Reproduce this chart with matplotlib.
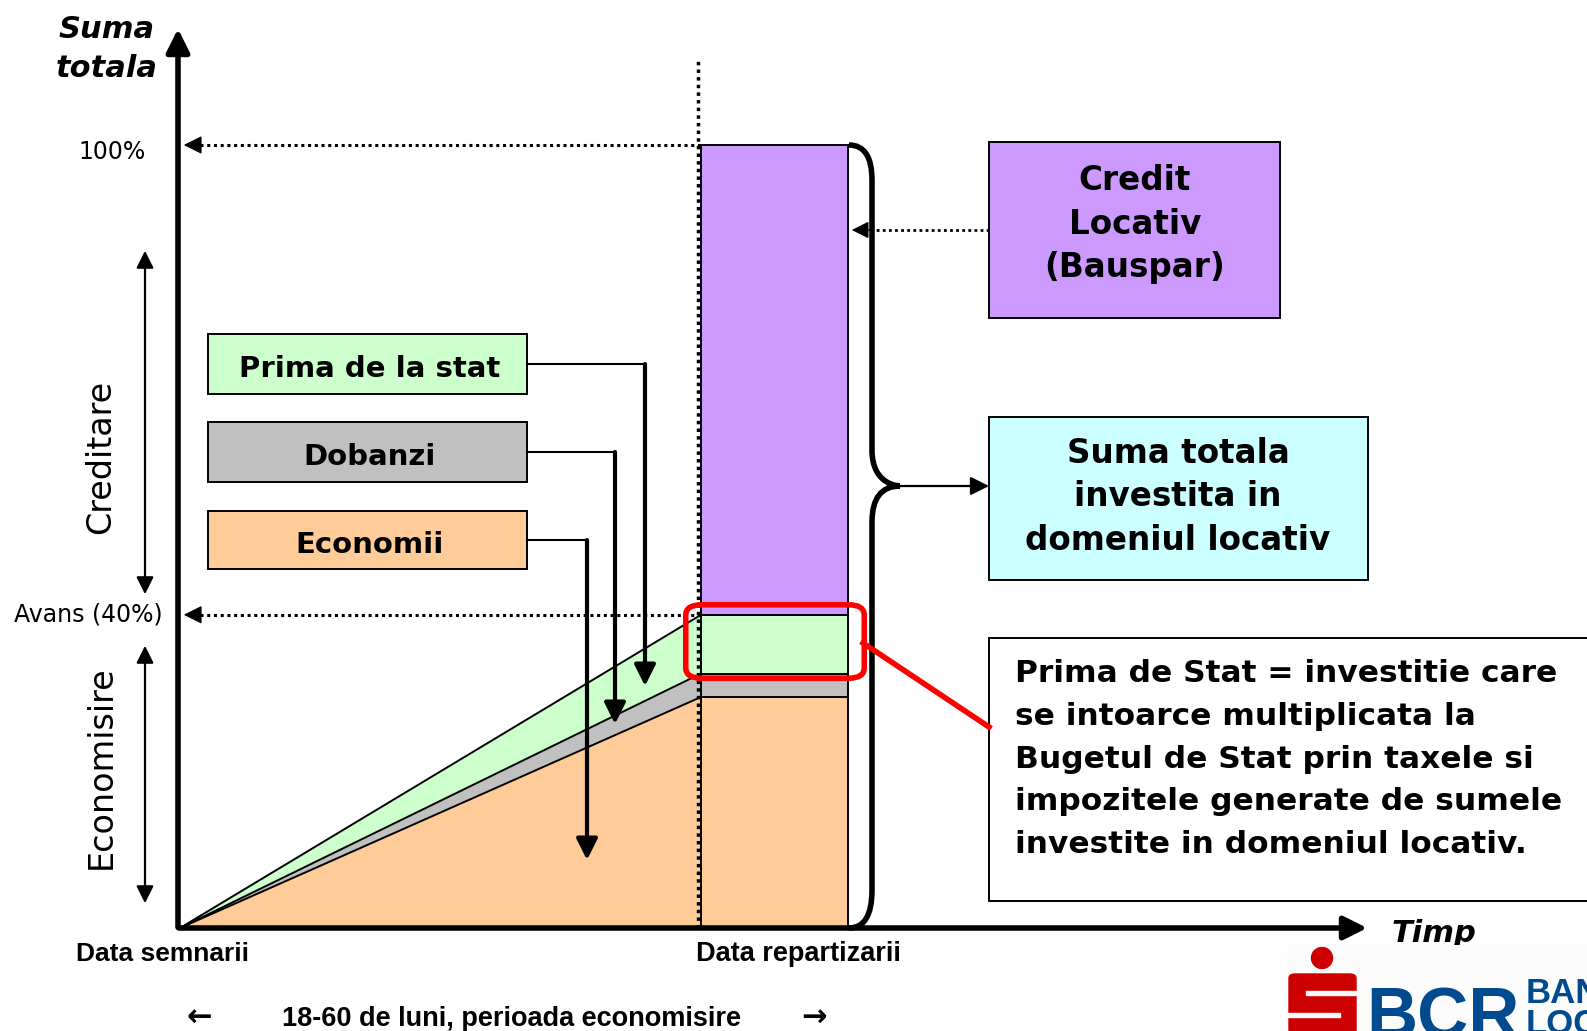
import numpy as np
import matplotlib.pyplot as plt
from matplotlib.patches import Rectangle, FancyBboxPatch, PathPatch, Ellipse
from matplotlib.path import Path

# Data (share of the total amount at the allocation date, in %)
layers = ['Economii', 'Dobanzi', 'Prima de la stat']
layer_share = [29.5, 3.0, 7.5]
layer_colors = ['#FFCC99', '#C0C0C0', '#CCFFCC']
credit_share = 60.0
avans = 40.0
t_semnare = 0.0
t_repartizare = 1.0
bar_width = 0.282

# reference pixel -> data units (layout helper)
X0, X1, Y0, Y100 = 180.0, 701.0, 928.0, 145.0
def X(px):
    return (px - X0) / (X1 - X0)
def Y(py):
    return (Y0 - py) / (Y0 - Y100) * 100

W, H = 1587, 1031
fig = plt.figure(figsize=(W / 100, H / 100), dpi=100)
ax = fig.add_axes([0, 0, 1, 1])
ax.set_xlim(X(0), X(W))
ax.set_ylim(Y(H), Y(0))
ax.axis('off')

# stacked triangles (accumulation during saving period)
cum = np.cumsum(layer_share)
bottoms = np.concatenate([[0], cum[:-1]])
t = [t_semnare, t_repartizare]
for i in range(len(layers)):
    ax.fill_between(t, [0, bottoms[i]], [0, cum[i]], color=layer_colors[i],
                    edgecolor='none', zorder=2)
    ax.plot(t, [0, cum[i]], color='black', lw=1.4, zorder=3)

# bar at allocation date
for i in range(len(layers)):
    ax.add_patch(Rectangle((t_repartizare, bottoms[i]), bar_width, layer_share[i],
                           facecolor=layer_colors[i], edgecolor='black', lw=1.4, zorder=3))
ax.add_patch(Rectangle((t_repartizare, avans), bar_width, credit_share,
                       facecolor='#CC99FF', edgecolor='black', lw=1.4, zorder=3))

# axes with arrows
ax.annotate('', xy=(X(178), Y(26)), xytext=(X(178), Y(930)),
            arrowprops=dict(arrowstyle='-|>', lw=4, color='black', mutation_scale=35), zorder=5)
ax.annotate('', xy=(X(1370), Y(928)), xytext=(X(176), Y(928)),
            arrowprops=dict(arrowstyle='-|>', lw=4, color='black', mutation_scale=35), zorder=5)

# vertical dotted line at allocation date
ax.plot([X(698)] * 2, [Y(928), Y(58)], color='black', lw=2.5,
        ls=(0, (1, 1.2)), zorder=4)

# dotted guide lines to 100% and avans
for lvl in [100, avans]:
    ax.plot([X(200), t_repartizare], [lvl, lvl], color='black', lw=2.2, ls=(0, (1, 1.2)), zorder=4)
    ax.annotate('', xy=(X(181), lvl), xytext=(X(203), lvl),
                arrowprops=dict(arrowstyle='-|>', lw=1, color='black', mutation_scale=28), zorder=5)

ax.text(X(112), Y(152), '100%', fontsize=17, ha='center', va='center')
ax.text(X(88), avans, 'Avans (40%)', fontsize=17, ha='center', va='center')
ax.text(X(107), Y(29), 'Suma', fontsize=22, fontweight='bold', style='italic', ha='center', va='center')
ax.text(X(107), Y(69), 'totala', fontsize=22, fontweight='bold', style='italic', ha='center', va='center')

# double arrows on the left
for y_a, y_b, lab, y_lab in [(Y(248), Y(597), 'Creditare', Y(457)),
                             (Y(643), Y(906), 'Economisire', Y(767))]:
    ax.annotate('', xy=(X(145), y_a), xytext=(X(145), y_b),
                arrowprops=dict(arrowstyle='<|-|>', lw=1.6, color='black', mutation_scale=26))
    ax.text(X(101), y_lab, lab, fontsize=24, rotation=90, ha='center', va='center')

# labelled boxes with connectors
box_y = [(511, 569), (422, 482), (334, 394)]
conn_x = [587, 615, 645]
conn_end = [860, 724, 686]
for i, lab in enumerate(layers):
    top, bot = box_y[i]
    ax.add_patch(Rectangle((X(208), Y(bot)), X(527) - X(208), Y(top) - Y(bot),
                           facecolor=layer_colors[i], edgecolor='black', lw=1.4, zorder=3))
    ym = Y((top + bot) / 2)
    ax.text(X(370), Y((top + bot) / 2 + 5), lab, fontsize=21, fontweight='bold',
            ha='center', va='center', zorder=4)
    ax.plot([X(527), X(conn_x[i])], [ym, ym], color='black', lw=1.5, zorder=4)
    ax.annotate('', xy=(X(conn_x[i]), Y(conn_end[i])), xytext=(X(conn_x[i]), ym),
                arrowprops=dict(arrowstyle='-|>', lw=3, color='black', mutation_scale=32,
                                shrinkA=0, shrinkB=0), zorder=4)

# brace on the right of the bar
verts = [(X(849), Y(145)), (X(872), Y(145)), (X(872), Y(180)), (X(872), Y(200)),
         (X(872), Y(450)),
         (X(872), Y(486)), (X(900), Y(486)), (X(900), Y(486)),
         (X(872), Y(486)), (X(872), Y(522)),
         (X(872), Y(890)),
         (X(872), Y(928)), (X(849), Y(928))]
codes = [Path.MOVETO, Path.CURVE3, Path.CURVE3, Path.LINETO,
         Path.LINETO,
         Path.CURVE4, Path.CURVE4, Path.CURVE4,
         Path.CURVE3, Path.CURVE3,
         Path.LINETO,
         Path.CURVE3, Path.CURVE3]
ax.add_patch(PathPatch(Path(verts, codes), facecolor='none', edgecolor='black', lw=4, zorder=5))
ax.annotate('', xy=(X(989), Y(486)), xytext=(X(900), Y(486)),
            arrowprops=dict(arrowstyle='-|>', lw=1.6, color='black', mutation_scale=28,
                            shrinkA=0, shrinkB=0))

# right-hand boxes
ax.add_patch(Rectangle((X(989), Y(318)), X(1280) - X(989), Y(142) - Y(318),
                       facecolor='#CC99FF', edgecolor='black', lw=1.4))
ax.text(X(1135), Y(224), 'Credit\nLocativ\n(Bauspar)', fontsize=23.5, fontweight='bold',
        ha='center', va='center', linespacing=1.4)
ax.plot([X(989), X(870)], [Y(230), Y(230)], color='black', lw=2, ls=(0, (1, 1.2)))
ax.annotate('', xy=(X(849), Y(230)), xytext=(X(872), Y(230)),
            arrowprops=dict(arrowstyle='-|>', lw=1, color='black', mutation_scale=26))

ax.add_patch(Rectangle((X(989), Y(580)), X(1368) - X(989), Y(417) - Y(580),
                       facecolor='#CCFFFF', edgecolor='black', lw=1.4))
ax.text(X(1178), Y(497), 'Suma totala\ninvestita in\ndomeniul locativ', fontsize=23.5,
        fontweight='bold', ha='center', va='center', linespacing=1.4)

ax.add_patch(Rectangle((X(989), Y(901)), X(1600) - X(989), Y(638) - Y(901),
                       facecolor='white', edgecolor='black', lw=1.4, clip_on=False))
ax.text(X(1015), Y(759), 'Prima de Stat = investitie care\nse intoarce multiplicata la\n'
        'Bugetul de Stat prin taxele si\nimpozitele generate de sumele\n'
        'investite in domeniul locativ.', fontsize=22.5, fontweight='bold',
        ha='left', va='center', linespacing=1.6)

# red highlight of the state bonus
ax.add_patch(FancyBboxPatch((X(692), Y(674)), X(858) - X(692), Y(609) - Y(674),
                            boxstyle='round,pad=0.012,rounding_size=0.03', mutation_aspect=45,
                            facecolor='none', edgecolor='red', lw=4, zorder=6))
ax.plot([X(863), X(989)], [Y(643), Y(727)], color='red', lw=4, zorder=6)

# bottom labels
narrow = ['Liberation Sans Narrow', 'Liberation Sans']
ax.text(X(162), Y(954), 'Data semnarii', fontsize=19, fontweight='bold', family=narrow,
        ha='center', va='center')
ax.text(X(798), Y(954), 'Data repartizarii', fontsize=19.5, fontweight='bold', family=narrow,
        ha='center', va='center')
ax.text(X(511), Y(1019), '18-60 de luni, perioada economisire', fontsize=19.5, fontweight='bold',
        family=narrow, ha='center', va='center')
ax.text(X(199), Y(1018), '←', fontsize=22, fontweight='bold', ha='center', va='center')
ax.text(X(814), Y(1018), '→', fontsize=22, fontweight='bold', ha='center', va='center')
ax.text(X(1434), Y(933), 'Timp', fontsize=22, fontweight='bold', style='italic',
        ha='center', va='center')

# BCR logo
red = '#CC0000'
blue = '#004A8F'
bg = '#FCFCFC'
ax.add_patch(Rectangle((X(1287), Y(1031)), X(1600) - X(1287), Y(945) - Y(1031),
                       facecolor=bg, edgecolor='none', zorder=5, clip_on=False))
ax.add_patch(Ellipse((X(1322), Y(958)), X(1343) - X(1322), Y(937) - Y(958),
                     color=red, zorder=6))
ax.add_patch(FancyBboxPatch((X(1289), Y(1034)), X(1356) - X(1289), Y(974) - Y(1034),
                            boxstyle='round,pad=0,rounding_size=0.012', mutation_aspect=45,
                            color=red, zorder=6, clip_on=False))
ax.add_patch(Rectangle((X(1306), Y(995)), X(1360) - X(1306), Y(991) - Y(995),
                       color=bg, zorder=7))
ax.add_patch(Rectangle((X(1285), Y(1017)), X(1340) - X(1285), Y(1013) - Y(1017),
                       color=bg, zorder=7))
ax.text(X(1366), Y(1038), 'BCR', fontsize=51, fontweight='bold', family='Liberation Sans',
        color=blue, ha='left', va='baseline', zorder=7)
ax.text(X(1526), Y(1003), 'BAN', fontsize=25, fontweight='bold', family='Liberation Sans',
        color=blue, ha='left', va='baseline', zorder=7)
ax.text(X(1526), Y(1034), 'LOC', fontsize=25, fontweight='bold', family='Liberation Sans',
        color=blue, ha='left', va='baseline', zorder=7)

fig.savefig('out.png', dpi=100)
